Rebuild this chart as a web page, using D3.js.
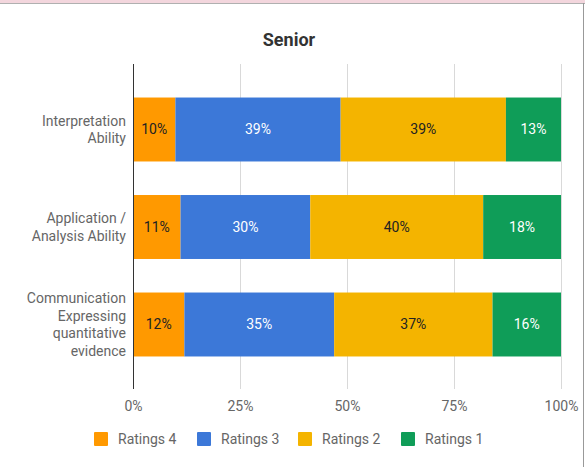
<!DOCTYPE html>
<html>
<head>
  <meta charset="UTF-8">
  <title>Senior</title>
  <script src="https://cdn.jsdelivr.net/npm/d3@7"></script>
  <style>
    body { margin: 0; background: #fff; }
    text { font-family: Roboto, "Noto Sans", sans-serif; }
  </style>
</head>
<body>
  <svg id="svg" width="585" height="467"></svg>

  <script type="text/javascript">

  // data
  var categories = [
    ['Interpretation', 'Ability'],
    ['Application /', 'Analysis Ability'],
    ['Communication', 'Expressing', 'quantitative', 'evidence']
  ];
  var seriesNames = ['Ratings 4', 'Ratings 3', 'Ratings 2', 'Ratings 1'];
  var ratings4 = [10, 11, 12];
  var ratings3 = [39, 30, 35];
  var ratings2 = [39, 40, 37];
  var ratings1 = [13, 18, 16];
  var tickValues = [0, 0.25, 0.5, 0.75, 1];

  var colors = ['#ff9900', '#3c78d8', '#f4b400', '#0f9d58'];
  var labelColors = ['#222', '#fff', '#222', '#fff'];

  var seriesVals = [ratings4, ratings3, ratings2, ratings1];
  var rows = categories.map(function(c, i) {
    var r = { idx: i };
    seriesNames.forEach(function(s, j) { r[s] = seriesVals[j][i]; });
    return r;
  });

  var svg = d3.select('#svg');

  // frame
  svg.append('rect').attr('x', 0).attr('y', 0).attr('width', 585).attr('height', 3).attr('fill', '#f3d6dd');
  svg.append('line').attr('x1', 0).attr('x2', 585).attr('y1', 3.5).attr('y2', 3.5).attr('stroke', '#b0b0b0');
  svg.append('line').attr('x1', 583.5).attr('x2', 583.5).attr('y1', 3).attr('y2', 467).attr('stroke', '#999');

  var x = d3.scaleLinear().domain([0, 1]).range([133, 561]);
  var y = d3.scaleBand().domain(d3.range(categories.length))
    .range([80.75, 373.25]).paddingInner(0.344).paddingOuter(0.172);

  var stack = d3.stack().keys(seriesNames).offset(d3.stackOffsetExpand);
  var series = stack(rows);

  // title
  svg.append('text')
    .attr('x', 289).attr('y', 46)
    .attr('text-anchor', 'middle')
    .style('font-size', '18px').style('font-weight', 'bold')
    .attr('fill', '#333')
    .text('Senior');

  // gridlines
  var xAxis = d3.axisBottom(x).tickValues(tickValues).tickFormat(d3.format('.0%')).tickSize(-325);
  var gx = svg.append('g').attr('transform', 'translate(0,389)').call(xAxis);
  gx.select('.domain').remove();
  gx.selectAll('.tick line').attr('stroke', '#d9d9d9');
  gx.selectAll('.tick text')
    .attr('y', 12)
    .attr('fill', '#666')
    .style('font-size', '14px');

  // bars
  var groups = svg.selectAll('g.series')
    .data(series).enter().append('g')
    .attr('class', 'series')
    .attr('fill', function(d, i) { return colors[i]; });

  groups.selectAll('rect')
    .data(function(d) { return d; })
    .enter().append('rect')
    .attr('x', function(d) { return x(d[0]); })
    .attr('width', function(d) { return x(d[1]) - x(d[0]); })
    .attr('y', function(d) { return y(d.data.idx); })
    .attr('height', y.bandwidth());

  groups.each(function(s, i) {
    d3.select(this).selectAll('text.val')
      .data(s).enter().append('text')
      .attr('class', 'val')
      .attr('x', function(d) { return (x(d[0]) + x(d[1])) / 2; })
      .attr('y', function(d) { return y(d.data.idx) + y.bandwidth() / 2; })
      .attr('dy', '0.35em')
      .attr('text-anchor', 'middle')
      .attr('fill', labelColors[i])
      .style('font-size', '14px')
      .text(function(d) { return d.data[s.key] + '%'; });
  });

  // baseline
  svg.append('line')
    .attr('x1', 133.5).attr('x2', 133.5).attr('y1', 64).attr('y2', 389)
    .attr('stroke', '#333').attr('stroke-width', 1);

  // category labels
  categories.forEach(function(lines, i) {
    var cy = y(i) + y.bandwidth() / 2;
    var lh = 17.7;
    var t = svg.append('text')
      .attr('text-anchor', 'end')
      .attr('fill', '#666')
      .style('font-size', '14px');
    lines.forEach(function(l, k) {
      t.append('tspan')
        .attr('x', 126)
        .attr('y', cy + (k - (lines.length - 1) / 2) * lh)
        .attr('dy', '0.35em')
        .text(l);
    });
  });

  // legend
  var legendX = [94, 197, 298, 401];
  var legend = svg.selectAll('g.legend')
    .data(seriesNames).enter().append('g')
    .attr('class', 'legend')
    .attr('transform', function(d, i) { return 'translate(' + legendX[i] + ',432)'; });
  legend.append('rect')
    .attr('width', 14).attr('height', 14).attr('rx', 1)
    .attr('fill', function(d, i) { return colors[i]; });
  legend.append('text')
    .attr('x', 24).attr('y', 7).attr('dy', '0.35em')
    .attr('fill', '#666')
    .style('font-size', '14px')
    .text(function(d) { return d; });

  </script>
</body>
</html>
